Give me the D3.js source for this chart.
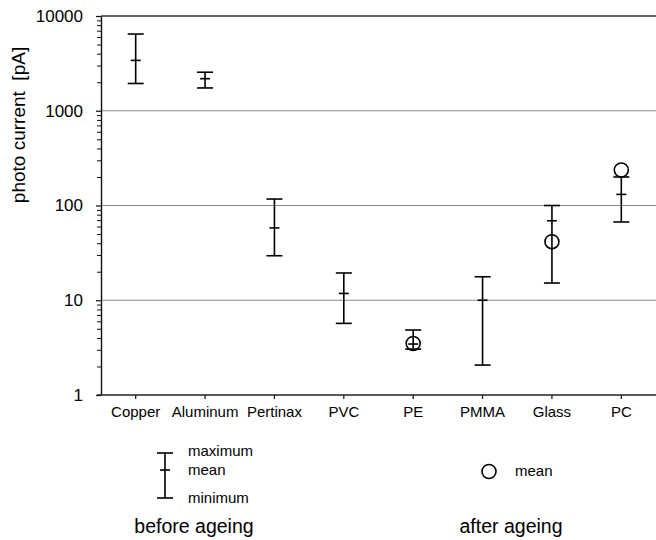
<!DOCTYPE html>
<html>
<head>
<meta charset="utf-8">
<script src="https://cdn.jsdelivr.net/npm/d3@7"></script>
<style>
  body { margin: 0; background: #fff; }
  svg { font-family: "Liberation Sans", Arial, sans-serif; }
</style>
</head>
<body>
<svg width="656" height="540"></svg>
<script>
const categories = ['Copper', 'Aluminum', 'Pertinax', 'PVC', 'PE', 'PMMA', 'Glass', 'PC'];
const maxVals = [6450, 2550, 117, 19.4, 4.85, 17.7, 100, 200];
const meanVals = [3400, 2180, 58, 11.8, 3.45, 10, 69, 131];
const minVals = [1940, 1740, 29.5, 5.7, 3.05, 2.07, 15.2, 67];

const agedCats = ['PE', 'Glass', 'PC'];
const agedMeans = [3.5, 41.5, 237];

const yTicks = [1, 10, 100, 1000, 10000];
const gridVals = [10, 100, 1000];

window.onload = () => {
  const left = 101, right = 656, top = 16, bottom = 395;
  const svg = d3.select('svg');

  const x = d3.scaleBand().domain(categories).range([left, right]);
  const y = d3.scaleLog().domain([1, 10000]).range([bottom, top]);
  const cx = c => x(c) + x.bandwidth() / 2;

  // grid lines
  svg.selectAll('.grid').data(gridVals).enter().append('line')
    .attr('x1', left).attr('x2', right)
    .attr('y1', d => y(d)).attr('y2', d => y(d))
    .attr('stroke', '#888').attr('stroke-width', 1.2);
  svg.append('line').attr('x1', left).attr('x2', right)
    .attr('y1', y(10000)).attr('y2', y(10000))
    .attr('stroke', '#333').attr('stroke-width', 1.4);

  // minor ticks
  const minor = [];
  for (let e = 0; e < 4; e++) for (let m = 2; m < 10; m++) minor.push(m * Math.pow(10, e));
  svg.append('g').attr('transform', 'translate(' + left + ',0)')
    .call(d3.axisLeft(y).tickValues(minor).tickSize(4).tickFormat(''))
    .call(g => g.select('.domain').remove())
    .selectAll('line').attr('stroke', '#111').attr('stroke-width', 1);

  const yAxis = svg.append('g').attr('transform', 'translate(' + left + ',0)')
    .call(d3.axisLeft(y).tickValues(yTicks).tickSize(5).tickPadding(13).tickFormat(d3.format('d')).tickSizeOuter(0));
  yAxis.select('.domain').attr('stroke', '#111').attr('stroke-width', 1.4);
  yAxis.selectAll('line').attr('stroke', '#111').attr('stroke-width', 1.2);
  yAxis.selectAll('text').attr('font-size', 17).attr('fill', '#000')
    .attr('font-family', '"Liberation Sans", Arial, sans-serif');

  const xAxis = svg.append('g').attr('transform', 'translate(0,' + bottom + ')')
    .call(d3.axisBottom(x).tickSize(4).tickPadding(7).tickSizeOuter(0));
  xAxis.select('.domain').attr('stroke', '#222').attr('stroke-width', 1.4)
    .attr('d', 'M' + (left - 4) + ',0H' + right);
  xAxis.selectAll('line').attr('stroke', '#111').attr('stroke-width', 1.2);
  xAxis.selectAll('text').attr('font-size', 15).attr('fill', '#000')
    .attr('font-family', '"Liberation Sans", Arial, sans-serif');

  svg.append('text')
    .attr('transform', 'translate(25,125) rotate(-90)')
    .attr('text-anchor', 'middle').attr('font-size', 19)
    .style('white-space', 'pre')
    .text('photo current  [pA]');

  // error bars
  const bars = categories.map((c, i) => ({c, max: maxVals[i], mean: meanVals[i], min: minVals[i]}));
  const bar = svg.append('g').attr('stroke', '#000').attr('stroke-width', 1.6).attr('fill', 'none');
  bar.selectAll('.v').data(bars).enter().append('line')
    .attr('x1', d => cx(d.c)).attr('x2', d => cx(d.c))
    .attr('y1', d => y(d.max)).attr('y2', d => y(d.min));
  bar.selectAll('.cmax').data(bars).enter().append('line')
    .attr('x1', d => cx(d.c) - 8).attr('x2', d => cx(d.c) + 8)
    .attr('y1', d => y(d.max)).attr('y2', d => y(d.max));
  bar.selectAll('.cmin').data(bars).enter().append('line')
    .attr('x1', d => cx(d.c) - 8).attr('x2', d => cx(d.c) + 8)
    .attr('y1', d => y(d.min)).attr('y2', d => y(d.min));
  bar.selectAll('.cmean').data(bars).enter().append('line')
    .attr('x1', d => cx(d.c) - 5).attr('x2', d => cx(d.c) + 5)
    .attr('y1', d => y(d.mean)).attr('y2', d => y(d.mean));

  // aged means
  svg.selectAll('.aged').data(agedCats).enter().append('circle')
    .attr('cx', d => cx(d)).attr('cy', (d, i) => y(agedMeans[i]))
    .attr('r', 7).attr('fill', 'none').attr('stroke', '#000').attr('stroke-width', 1.6);

  // legend: before ageing
  const lg = svg.append('g').attr('stroke', '#000').attr('stroke-width', 1.6);
  lg.append('line').attr('x1', 165).attr('x2', 165).attr('y1', 453).attr('y2', 498);
  lg.append('line').attr('x1', 157).attr('x2', 173).attr('y1', 453).attr('y2', 453);
  lg.append('line').attr('x1', 157).attr('x2', 173).attr('y1', 498).attr('y2', 498);
  lg.append('line').attr('x1', 160).attr('x2', 170).attr('y1', 470).attr('y2', 470);
  const lt = svg.append('g').attr('font-size', 15).attr('fill', '#000');
  lt.append('text').attr('x', 188).attr('y', 456).text('maximum');
  lt.append('text').attr('x', 188).attr('y', 475).text('mean');
  lt.append('text').attr('x', 188).attr('y', 503).text('minimum');
  lt.append('text').attr('x', 515).attr('y', 476).text('mean');
  svg.append('circle').attr('cx', 489).attr('cy', 471.5).attr('r', 7)
    .attr('fill', 'none').attr('stroke', '#000').attr('stroke-width', 1.6);

  svg.append('text').attr('x', 194).attr('y', 533).attr('text-anchor', 'middle')
    .attr('font-size', 19.5).text('before ageing');
  svg.append('text').attr('x', 511).attr('y', 533).attr('text-anchor', 'middle')
    .attr('font-size', 19.5).text('after ageing');
};
</script>
</body>
</html>
